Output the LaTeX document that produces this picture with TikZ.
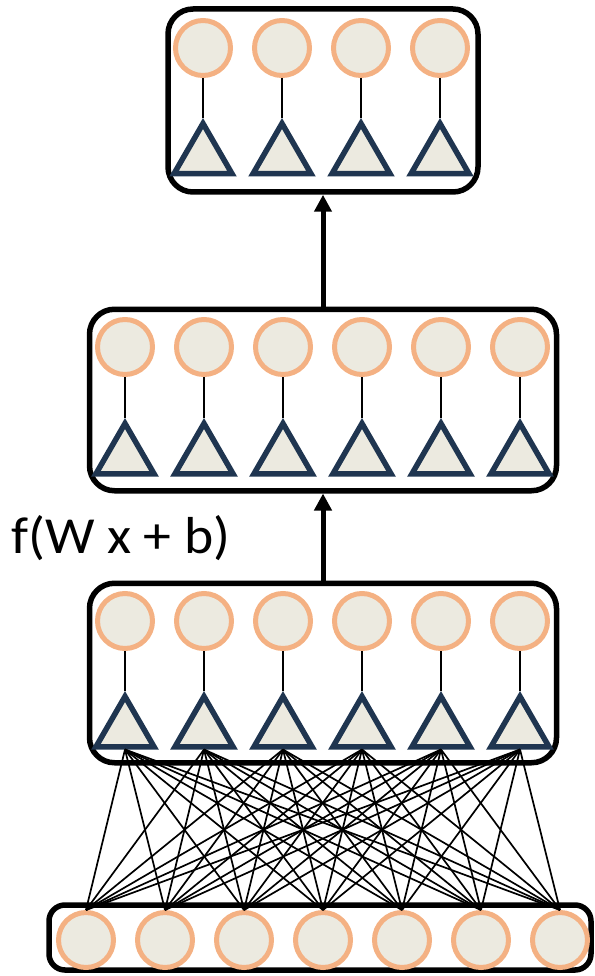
\documentclass[tikz,border=0pt]{standalone}
\usepackage{fontspec}
\setmainfont{Carlito}
\usetikzlibrary{shapes.geometric,arrows.meta}
\definecolor{nfill}{RGB}{236,234,224}
\definecolor{norange}{RGB}{244,177,131}
\definecolor{nnavy}{RGB}{31,53,80}
\begin{document}
\begin{tikzpicture}[x=1pt,y=-1pt,
  neuron/.style={circle,draw=norange,fill=nfill,line width=5pt,minimum size=55pt,inner sep=0pt},
  act/.style={regular polygon,regular polygon sides=3,draw=nnavy,fill=nfill,line width=5.5pt,minimum size=67pt,inner sep=0pt},
  layerbox/.style={draw=black,line width=5.5pt,rounded corners=25pt,inner sep=0pt},
  inbox/.style={draw=black,line width=5.5pt,rounded corners=16pt,inner sep=0pt},
  link/.style={line width=1.8pt},
  fan/.style={line width=1.7pt},
  flow/.style={line width=5pt,-{Triangle[length=17pt,width=17pt]}}]
\useasboundingbox (0,0) rectangle (594,976);
% boxes
\node[layerbox,minimum width=310pt,minimum height=183pt] (box1) at (323,100.5) {};
\node[layerbox,minimum width=467pt,minimum height=181.5pt] (box2) at (323,400) {};
\node[layerbox,minimum width=467pt,minimum height=179.5pt] (box3) at (323,673) {};
\node[inbox,minimum width=542pt,minimum height=65pt] (box4) at (320,937.5) {};
% top layer
\foreach \i/\x in {1/203,2/282,3/361,4/440}{
  \node[neuron] (a\i) at (\x,48) {};
  \node[act] (ta\i) at (\x,157) {};
  \draw[link] (a\i.south) -- (ta\i.north);
}
% middle layer
\foreach \i in {1,...,6}{
  \pgfmathsetmacro{\xx}{125+79*(\i-1)}
  \node[neuron] (b\i) at (\xx,347) {};
  \node[act] (tb\i) at (\xx,457) {};
  \draw[link] (b\i.south) -- (tb\i.north);
}
% third layer
\foreach \i in {1,...,6}{
  \pgfmathsetmacro{\xx}{125+79*(\i-1)}
  \node[neuron] (c\i) at (\xx,621) {};
  \node[act] (tc\i) at (\xx,730) {};
  \draw[link] (c\i.south) -- (tc\i.north);
}
% input layer
\foreach \j in {1,...,7}{
  \pgfmathsetmacro{\xx}{86+79*(\j-1)}
  \node[neuron] (d\j) at (\xx,940) {};
}
% full connections
\foreach \i in {1,...,6}{
  \foreach \j in {1,...,7}{
    \draw[fan] (tc\i.south) -- (d\j.north);
  }
}
% arrows
\draw[flow] (box3.north) -- (box2.south);
\draw[flow] (box2.north) -- (box1.south);
% label
\node[anchor=base west,inner sep=0pt,xscale=1.07,font=\fontsize{52}{56}\selectfont] (lbl) at (11,553) {f(W x + b)};
\end{tikzpicture}
\end{document}
